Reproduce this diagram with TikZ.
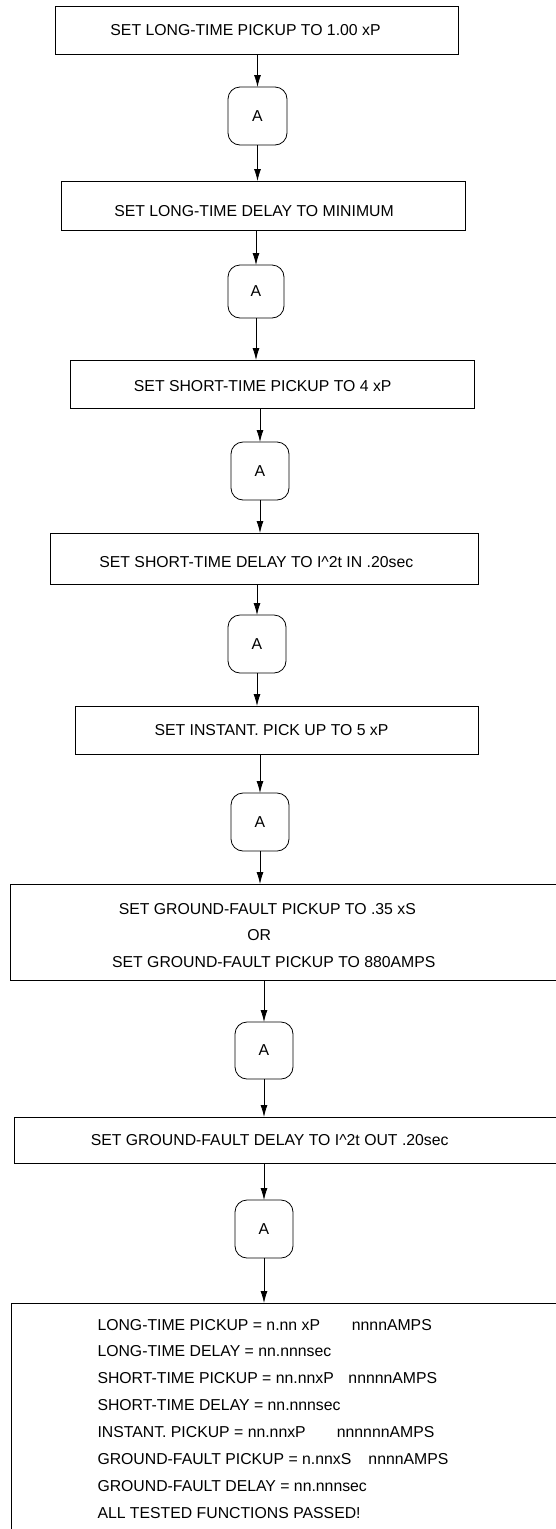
\documentclass[tikz,border=0pt]{standalone}
\usepackage{fontspec}
\setmainfont{Liberation Sans}
\usetikzlibrary{arrows.meta}
\begin{document}
\begin{tikzpicture}[x=1pt,y=-1pt,
  box/.style={draw=black,line width=0.8pt,inner sep=0pt,outer sep=0pt,fill=none},
  conn/.style={draw=black,line width=0.8pt,inner sep=0pt,outer sep=0pt,rounded corners=12pt,minimum width=58pt,minimum height=58pt,font=\fontsize{15.8}{18}\selectfont},
  txt/.style={inner sep=0pt,anchor=base,font=\fontsize{15.8}{18}\selectfont},
  ltxt/.style={inner sep=0pt,anchor=base west,font=\fontsize{15.8}{18}\selectfont},
  arr/.style={line width=0.8pt,-{Latex[length=12pt,width=7pt]}}]
\useasboundingbox (0,0) rectangle (556,1529);
\fill[white] (0,0) rectangle (556,1529);
% boxes
\node[box,minimum width=403pt,minimum height=48pt] (b1) at (256.5,30) {};
\node[box,minimum width=404pt,minimum height=49pt] (b2) at (263,205.5) {};
\node[box,minimum width=404pt,minimum height=48pt] (b3) at (272,384) {};
\node[box,minimum width=428pt,minimum height=51pt] (b4) at (264,558.5) {};
\node[box,minimum width=403pt,minimum height=48pt] (b5) at (276.5,730) {};
\node[box,minimum width=560pt,minimum height=96pt] (b6) at (290,932) {};
\node[box,minimum width=556pt,minimum height=46pt] (b7) at (292,1140) {};
\node[box,minimum width=569pt,minimum height=257pt] (b8) at (295.5,1431.5) {};
% connectors A
\node[conn,minimum width=59pt,minimum height=58pt] (a1) at (257.5,116) {A};
\node[conn,minimum width=56pt,minimum height=53pt] (a2) at (256,291.5) {A};
\node[conn] (a3) at (260,471) {A};
\node[conn] (a4) at (257,644) {A};
\node[conn] (a5) at (260,822) {A};
\node[conn,minimum height=57pt] (a6) at (264,1050.5) {A};
\node[conn] (a7) at (264,1229) {A};
% texts
\node[txt] (t1) at (245.5,35.7) {SET LONG-TIME PICKUP TO 1.00 xP};
\node[txt] (t2) at (254,216.7) {SET LONG-TIME DELAY TO MINIMUM};
\node[txt] (t3) at (262.7,391.7) {SET SHORT-TIME PICKUP TO 4 xP};
\node[txt] (t4) at (256.3,567.7) {SET SHORT-TIME DELAY TO I\^{}2t IN .20sec};
\node[txt] (t5) at (271.5,735.7) {SET INSTANT. PICK UP TO 5 xP};
\node[txt] (t6a) at (267.3,914.3) {SET GROUND-FAULT PICKUP TO .35 xS};
\node[txt] (t6b) at (259.3,940.3) {OR};
\node[txt] (t6c) at (273.8,967.3) {SET GROUND-FAULT PICKUP TO 880AMPS};
\node[txt] (t7) at (269.7,1145.7) {SET GROUND-FAULT DELAY TO I\^{}2t OUT .20sec};
% result lines
\node[ltxt] (r1) at (97.3,1330) {\makebox[254.4pt][l]{LONG-TIME PICKUP = n.nn xP}nnnnAMPS};
\node[ltxt] (r2) at (97.3,1356.9) {LONG-TIME DELAY = nn.nnnsec};
\node[ltxt] (r3) at (97.3,1383.8) {\makebox[251pt][l]{SHORT-TIME PICKUP = nn.nnxP}nnnnnAMPS};
\node[ltxt] (r4) at (97.3,1410.7) {SHORT-TIME DELAY = nn.nnnsec};
\node[ltxt] (r5) at (97.3,1437.6) {\makebox[239.4pt][l]{INSTANT. PICKUP = nn.nnxP}nnnnnnAMPS};
\node[ltxt] (r6) at (97.3,1464.5) {\makebox[271pt][l]{GROUND-FAULT PICKUP = n.nnxS}nnnnAMPS};
\node[ltxt] (r7) at (97.3,1491.4) {GROUND-FAULT DELAY = nn.nnnsec};
\node[ltxt] (r8) at (97.3,1518.3) {ALL TESTED FUNCTIONS PASSED!};
% arrows
\draw[arr] (b1.south -| a1.north) -- (a1.north);
\draw[arr] (a1.south) -- (b2.north -| a1.south);
\draw[arr] (b2.south -| a2.north) -- (a2.north);
\draw[arr] (a2.south) -- (b3.north -| a2.south);
\draw[arr] (b3.south -| a3.north) -- (a3.north);
\draw[arr] (a3.south) -- (b4.north -| a3.south);
\draw[arr] (b4.south -| a4.north) -- (a4.north);
\draw[arr] (a4.south) -- (b5.north -| a4.south);
\draw[arr] (b5.south -| a5.north) -- (a5.north);
\draw[arr] (a5.south) -- (b6.north -| a5.south);
\draw[arr] (b6.south -| a6.north) -- (a6.north);
\draw[arr] (a6.south) -- (b7.north -| a6.south);
\draw[arr] (b7.south -| a7.north) -- (a7.north);
\draw[arr] (a7.south) -- (b8.north -| a7.south);
\end{tikzpicture}
\end{document}
